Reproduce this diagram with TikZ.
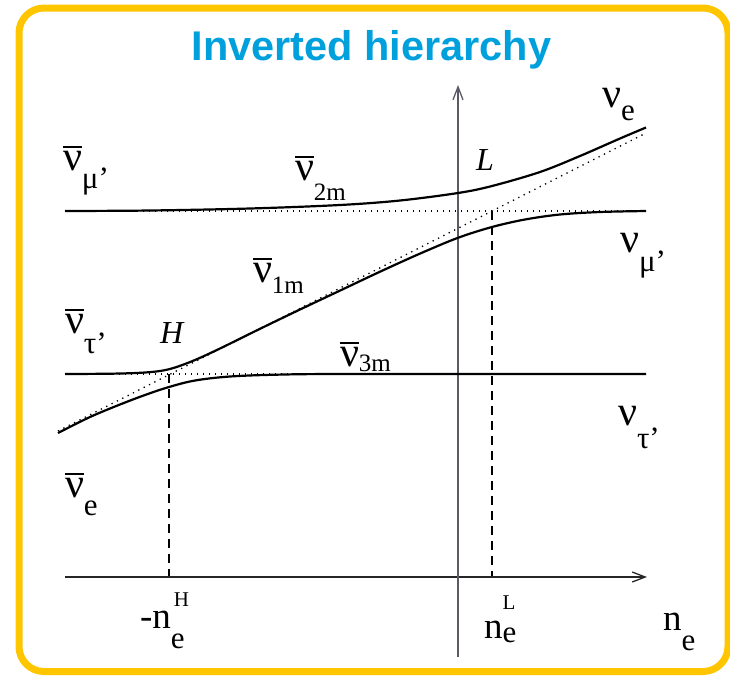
\documentclass[tikz,border=0pt]{standalone}
\usepackage{fontspec}
\setmainfont{Liberation Serif}
\newfontfamily\titlefont{Liberation Sans}
\usetikzlibrary{arrows.meta}
\definecolor{frameyellow}{RGB}{255,198,0}
\definecolor{titleblue}{RGB}{0,160,220}
\definecolor{axisgray}{RGB}{90,90,100}
\newcommand\barred[1]{\setbox0\hbox{#1}\rlap{\raisebox{\dimexpr\ht0+3pt\relax}{\rule{\wd0}{1.6pt}}}\box0}
\newcommand\fs[1]{\fontsize{#1}{#1}\selectfont}
\begin{document}
\begin{tikzpicture}[x=1pt,y=-1pt,
  curve/.style={line width=2.2pt, black, line join=round},
  dotline/.style={line width=1.3pt, dash pattern=on 1.3pt off 4.7pt},
  dashline/.style={line width=1.1pt, dash pattern=on 9pt off 6pt},
  axisline/.style={line width=1.3pt, -{Straight Barb[length=13pt,width=10pt]}},
  lbl/.style={anchor=base west, inner sep=0pt, outer sep=0pt},
]
\useasboundingbox (0,0) rectangle (730,675);
\draw[frameyellow, line width=7pt, rounded corners=25pt] (19,8) rectangle (728,671.5);
\node[anchor=base, text=titleblue, font={\titlefont\bfseries\fs{41.5}}] (title) at (371.5,60) {Inverted hierarchy};

% coordinates
\coordinate (xo) at (65,577);
\coordinate (xe) at (647,577);
\coordinate (yo) at (458,657);
\coordinate (ye) at (458,85);
\coordinate (H) at (169,374);
\coordinate (L) at (492,211);
\coordinate (Hb) at (169,577);
\coordinate (Lb) at (492,577);

% dotted unperturbed levels
\draw[dotline] (65,211) -- (646,211);
\draw[dotline] (65,374) -- (646,374);
\draw[dotline] (58,431) -- (646,133);

% dashed drop lines
\draw[dashline] (H) -- (Hb);
\draw[dashline] (L) -- (Lb);

% axes
\draw[axisline, black!85] (xo) -- (xe);
\draw[axisline, axisgray] (yo) -- (ye);

% curves
\draw[curve] plot[smooth, tension=0.55] coordinates {(65,211) (150,210.5) (250,208.5) (340,205) (400,200.5) (458,193) (492,186) (540,172) (580,156) (620,138.5) (646,127.5)};
\draw[curve] plot[smooth, tension=0.55] coordinates {(65,374) (110,373.7) (140,372.8) (160,371) (175,367.5) (195,360) (220,348.5) (260,328.8) (300,309.5) (340,290.6) (380,271.7) (420,253.6) (458,237.8) (492,227) (525,219.5) (560,214.5) (600,212) (646,211)};
\draw[curve] plot[smooth, tension=0.55] coordinates {(58,433) (90,417) (120,404.5) (145,395) (169,387) (195,380.5) (230,376.5) (280,374.6) (350,374) (646,374)};

% labels
\node[lbl] (lmuL) at (63,170) {\fs{42}\barred{ν}\raisebox{-18.5pt}{\fs{31}μ’}};
\node[lbl] (l2m) at (295,180) {\fs{42}\barred{ν}\raisebox{-20pt}{\fs{25}2m}};
\node[lbl] (l1m) at (253,282) {\fs{42}\barred{ν}\raisebox{-11pt}{\fs{25}1m}};
\node[lbl] (ltauL) at (65,333) {\fs{42}\barred{ν}\raisebox{-20pt}{\fs{31}τ’}};
\node[lbl] (l3m) at (340,366) {\fs{42}\barred{ν}\raisebox{-5pt}{\fs{25}3m}};
\node[lbl] (leL) at (65,497) {\fs{42}\barred{ν}\raisebox{-18pt}{\fs{31}e}};
\node[lbl] (lH) at (160,343) {\fs{32}\itshape H};
\node[lbl] (lL) at (476,170) {\fs{32}\itshape L};
\node[lbl] (leR) at (602,107) {\fs{42}ν\raisebox{-13pt}{\fs{31}e}};
\node[lbl] (lmuR) at (620,252) {\fs{42}ν\raisebox{-19pt}{\fs{31}μ’}};
\node[lbl] (ltauR) at (618,425) {\fs{42}ν\raisebox{-23pt}{\fs{31}τ’}};
\node[lbl] (lnH) at (140,628) {\fs{37}-n\rlap{\hspace{3pt}\raisebox{22pt}{\fs{21}H}}\raisebox{-20pt}{\fs{31}e}};
\node[lbl] (lnL) at (484,638) {\fs{37}n\rlap{\raisebox{29pt}{\fs{21}L}}\raisebox{-4pt}{\fs{31}e}};
\node[lbl] (lne) at (663,630) {\fs{37}n\raisebox{-20pt}{\fs{31}e}};
\end{tikzpicture}
\end{document}
